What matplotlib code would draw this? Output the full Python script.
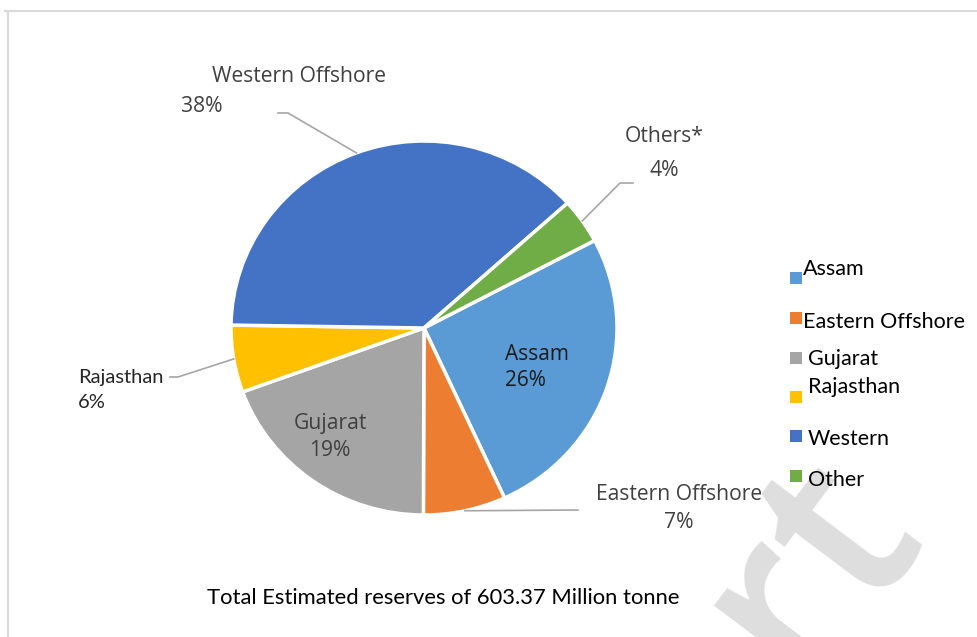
import numpy as np
import matplotlib
matplotlib.use("Agg")
import matplotlib.pyplot as plt
from matplotlib.patches import Rectangle

# データ（円グラフの値、%）
regions = ["Assam", "Eastern Offshore", "Gujarat", "Rajasthan",
           "Western Offshore", "Others*"]
shares = [25.9, 6.9, 19.4, 5.8, 38.1, 3.9]
colors = ["#5B9BD5", "#ED7D31", "#A5A5A5", "#FFC000", "#4472C4", "#70AD47"]
legend_names = ["Assam", "Eastern Offshore", "Gujarat", "Rajasthan",
                "Western", "Other"]
title = "Total Estimated reserves of 603.37 Million tonne"

W, H = 977, 637
CX, CY = 424, 328      # 円の中心（上からのピクセル）
RX, RY = 193, 187      # 横・縦の半径（少し横長）


def Y(y):
    """上からのピクセル位置をデータ座標に変換"""
    return H - y


fig = plt.figure(figsize=(W / 100, H / 100), dpi=100)

# 円グラフ用の軸
pax = fig.add_axes([(CX - RX) / W, (H - CY - RY) / H, 2 * RX / W, 2 * RY / H])
wedges, _ = pax.pie(
    shares,
    colors=colors,
    startangle=27.9,
    counterclock=False,
    radius=1.0,
    wedgeprops=dict(edgecolor="white", linewidth=2.5),
    )
pax.set_aspect("auto")
pax.set_xlim(-1, 1)
pax.set_ylim(-1, 1)
pax.axis("off")

# 文字・線用の軸（ピクセル座標）
ax = fig.add_axes([0, 0, 1, 1])
ax.patch.set_alpha(0)
ax.set_xlim(0, W)
ax.set_ylim(0, H)
ax.axis("off")

pct = [f"{s:.0f}%" for s in shares]


def edge_point(i):
    """扇形の中央角の外周点（ピクセル座標）"""
    w = wedges[i]
    mid = np.deg2rad((w.theta1 + w.theta2) / 2)
    return CX + RX * np.cos(mid), Y(CY) + RY * np.sin(mid)


gray = "#404040"
lab = dict(family="Open Sans", fontsize=15.2, color=gray)
lc = "#A6A6A6"

# Western Offshore
ax.text(299, Y(76), regions[4], ha="center", va="center", **lab)
ax.text(181, Y(107), pct[4], ha="left", va="center", **lab)
x, y = edge_point(4)
ax.plot([278, 288, x], [Y(113), Y(113), y], color=lc, lw=1.2)

# Others
ax.text(664, Y(136), regions[5], ha="center", va="center", **lab)
ax.text(664, Y(171), pct[5], ha="center", va="center", **lab)
x, y = edge_point(5)
ax.plot([633, 620, x], [Y(183), Y(183), y], color=lc, lw=1.2)

# Rajasthan
raj = dict(family="Lato", fontsize=14.5, color="#262626")
ax.text(78, Y(377), regions[3], ha="left", va="center", **raj)
ax.text(78, Y(403), pct[3], ha="left", va="center", **raj)
x, y = edge_point(3)
ax.plot([170, 178, x], [Y(377), Y(377), y], color=lc, lw=1.2)

# Eastern Offshore
ax.text(679, Y(495), regions[1], ha="center", va="center", **lab)
ax.text(679, Y(523), pct[1], ha="center", va="center", **lab)
x, y = edge_point(1)
ax.plot([578, x], [Y(510), y], color=lc, lw=1.2)

# Assam / Gujarat（扇形の内側）
ax.text(537, Y(355), regions[0], ha="center", va="center",
        family="Open Sans", fontsize=15, color="#1A1A1A")
ax.text(525, Y(381), pct[0], ha="center", va="center",
        family="Open Sans", fontsize=15, color="#1A1A1A")
ax.text(330, Y(423), regions[2], ha="center", va="center", **lab)
ax.text(330, Y(451), pct[2], ha="center", va="center", **lab)

# 凡例（手置き）
leg_box_y = [278, 318, 358, 397, 436, 476]
leg_text = [(803, 269), (803, 322), (808, 359), (808, 387),
            (808, 439), (808, 480)]
for c, name, by, (tx, ty) in zip(colors, legend_names, leg_box_y, leg_text):
    ax.add_patch(Rectangle((790, Y(by) - 6), 12, 12, facecolor=c,
                           edgecolor="none", zorder=3))
    ax.text(tx, Y(ty), name, ha="left", va="center", family="Lato",
            fontsize=15.5, color="black", zorder=3)

# タイトル
ax.text(443, Y(598), title, ha="center", va="center", family="Lato",
        fontsize=15.8, color="black")

# 透かし
wm = ax.text(920, Y(522), "Report", ha="right", va="baseline",
             family="Open Sans", fontweight="semibold", fontsize=175,
             color="#DEDEDE", rotation=53, rotation_mode="anchor",
             zorder=0.5)
wm.set_clip_on(True)

# 枠線
ax.plot([5, W], [Y(10.5), Y(10.5)], color="#D9D9D9", lw=1.5)
ax.plot([7.5, 7.5], [Y(10.5), 0], color="#D9D9D9", lw=1.5)

fig.savefig("out.png", dpi=100)
plt.close(fig)
